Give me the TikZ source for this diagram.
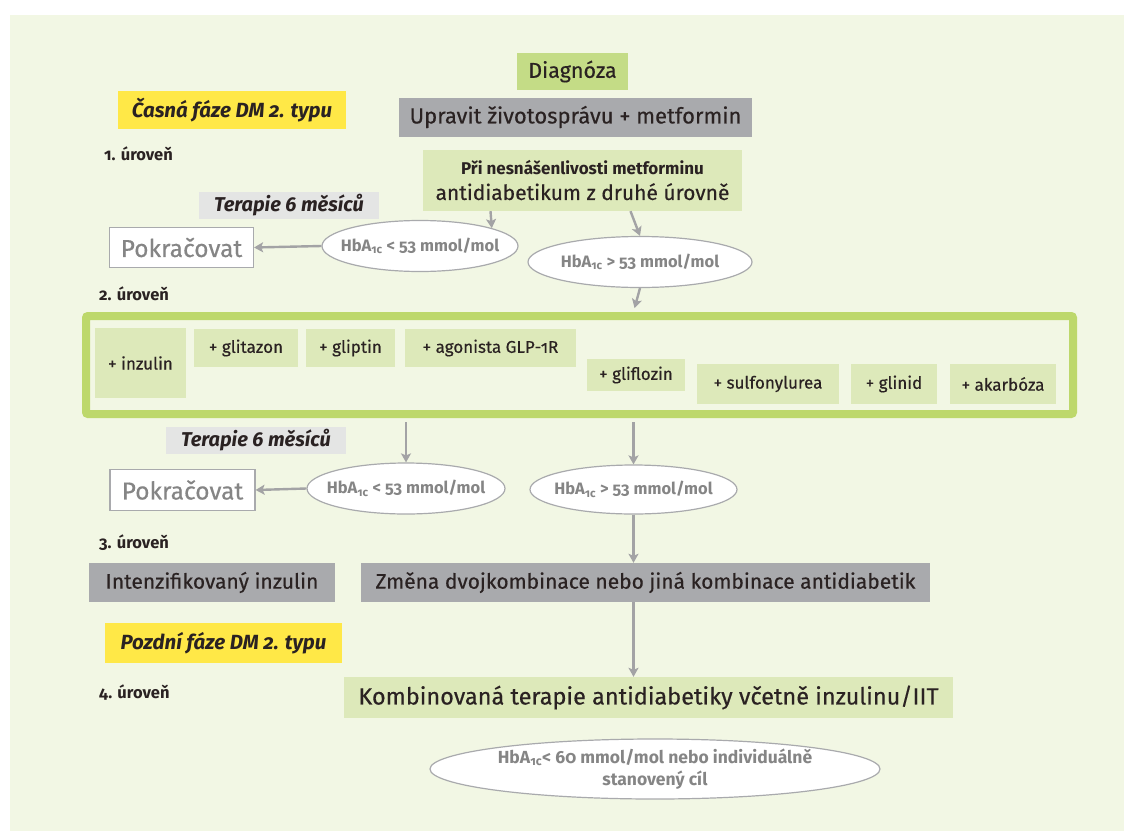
\documentclass[tikz,border=0pt]{standalone}
\usepackage{fontspec}
\setmainfont{Fira Sans}[Numbers=OldStyle, UprightFeatures={FakeBold=0.4}]
\usetikzlibrary{shapes.geometric,arrows.meta}
\definecolor{panel}{HTML}{F2F7E4}
\definecolor{ink}{HTML}{2A2222}
\definecolor{lgreen}{HTML}{DDE9BA}
\definecolor{mgreen}{HTML}{C4DC86}
\definecolor{fgreen}{HTML}{BDD86B}
\definecolor{dgrey}{HTML}{A9AAAD}
\definecolor{lgrey}{HTML}{E4E5E4}
\definecolor{yel}{HTML}{FFE847}
\definecolor{arrowgrey}{HTML}{A3A3A5}
\definecolor{softtext}{HTML}{858585}

\begin{document}
\begin{tikzpicture}[x=1pt,y=-1pt,
base/.style={inner sep=0pt, align=center, text=ink},
greenbox/.style={base, fill=lgreen},
greybox/.style={base, fill=dgrey},
phase/.style={base, fill=yel, font=\fontsize{20.5}{24}\selectfont\bfseries\itshape},
months/.style={base, fill=lgrey, font=\fontsize{20}{24}\selectfont\bfseries\itshape},
goon/.style={base, draw=dgrey, line width=1.2pt, fill=white, text=softtext, font=\fontsize{24.5}{28}\selectfont},
cond/.style={ellipse, base, inner xsep=-40pt, inner ysep=-6pt, draw=dgrey, line width=1.2pt, fill=white, text=softtext, font=\fontsize{16.5}{20}\selectfont\bfseries},
drug/.style={greenbox, font=\fontsize{17}{20}\selectfont},
level/.style={base, anchor=west, font=\fontsize{16.5}{19}\selectfont\bfseries},
flow/.style={-{Stealth[length=9pt,width=10pt,inset=2pt]}, arrowgrey, line width=2.4pt}
]
\useasboundingbox (0,0) rectangle (1124,835);
\fill[panel] (10,15) rectangle (1124,831);

\node[base, fill=mgreen, minimum width=111pt, minimum height=37pt, font=\fontsize{21.5}{24}\selectfont] (diag) at (572.5,71.5) {Diagnóza};
\node[greybox, minimum width=353pt, minimum height=39pt, font=\fontsize{22}{25}\selectfont] (lifestyle) at (575.5,117) {Upravit životosprávu + metformin};
\node[greenbox, minimum width=319pt, minimum height=61pt, font=\fontsize{21}{25}\selectfont] (intol) at (582.5,180.5) {{\fontsize{17}{20}\selectfont\bfseries Při nesnášenlivosti metforminu}\\antidiabetikum z druhé úrovně};
\node[phase, minimum width=228pt, minimum height=38pt] (early) at (232,110) {Časná fáze DM 2. typu};
\node[level] (lvA) at (104,154) {1. úroveň};
\node[months, minimum width=180pt, minimum height=27pt] (ther1) at (289,205.5) {Terapie 6 měsíců};
\node[goon, minimum width=144pt, minimum height=40pt] (cont1) at (181.5,247.5) {Pokračovat};
\node[cond, minimum width=196pt, minimum height=51pt] (low1) at (420,246) {HbA\textsubscript{1c} < 53 mmol/mol};
\node[cond, minimum width=224pt, minimum height=51pt] (high1) at (640,262) {HbA\textsubscript{1c} > 53 mmol/mol};
\node[level] (lvB) at (99,294) {2. úroveň};

\node[base, draw=fgreen, line width=8pt, rounded corners=2pt, fill=panel, minimum width=987pt, minimum height=98pt] (combo) at (579.5,365) {};
\node[drug, minimum width=91pt, minimum height=70pt] (insulin) at (140.5,363) {+ inzulin};
\node[drug, minimum width=104pt, minimum height=38pt] (glitazon) at (246,348) {+ glitazon};
\node[drug, minimum width=89pt, minimum height=38pt] (gliptin) at (350.5,348) {+ gliptin};
\node[drug, minimum width=171pt, minimum height=38pt] (glp) at (490.5,348) {+ agonista GLP-1R};
\node[drug, minimum width=98pt, minimum height=32pt] (gliflozin) at (636,375) {+ gliflozin};
\node[drug, minimum width=142pt, minimum height=40pt] (su) at (768,384) {+ sulfonylurea};
\node[drug, minimum width=86pt, minimum height=40pt] (glinid) at (894,384) {+ glinid};
\node[drug, minimum width=106pt, minimum height=40pt] (acarb) at (1003,384) {+ akarbóza};

\node[months, minimum width=180pt, minimum height=27pt] (ther2) at (256,440.5) {Terapie 6 měsíců};
\node[goon, minimum width=145pt, minimum height=41pt] (cont2) at (182.5,490) {Pokračovat};
\node[cond, minimum width=198pt, minimum height=51pt] (low2) at (406,488.5) {HbA\textsubscript{1c} < 53 mmol/mol};
\node[cond, minimum width=207pt, minimum height=49pt] (high2) at (633.5,489.5) {HbA\textsubscript{1c} > 53 mmol/mol};
\node[level] (lvC) at (99,543) {3. úroveň};

\node[greybox, minimum width=246pt, minimum height=39pt, font=\fontsize{21}{24}\selectfont] (intens) at (212,582.5) {Intenzifikovaný inzulin};
\node[greybox, minimum width=569pt, minimum height=39pt, font=\fontsize{21}{24}\selectfont] (change) at (645.5,582.5) {Změna dvojkombinace nebo jiná kombinace antidiabetik};
\node[phase, minimum width=237pt, minimum height=40pt] (late) at (223.5,643) {Pozdní fáze DM 2. typu};
\node[level] (lvD) at (99,693) {4. úroveň};
\node[greenbox, minimum width=609pt, minimum height=41pt, font=\fontsize{23.5}{27}\selectfont] (insulinall) at (648.5,697.5) {Kombinovaná terapie antidiabetiky včetně inzulinu/IIT};
\node[cond, minimum width=450pt, minimum height=60pt, inner xsep=-80pt, inner ysep=-12pt, font=\fontsize{17.5}{22}\selectfont\bfseries] (target) at (655,769) {HbA\textsubscript{1c}< 60 mmol/mol nebo individuálně\\stanovený cíl};

\draw[flow] ([xshift=-92pt]intol.south) -- (low1.14);
\draw[flow] ([xshift=48pt]intol.south) -- (high1.north);
\draw[flow] (low1.west) -- (cont1.east);
\draw[flow, shorten >=4pt] (high1.south) -- ([xshift=54pt]combo.north);
\draw[flow, shorten <=4pt] (combo.south -| low2.north) -- (low2.north);
\draw[flow, shorten <=4pt] (combo.south -| high2.north) -- (high2.north);
\draw[flow] (low2.west) -- (cont2.east);
\draw[flow] (high2.south) -- (high2.south |- change.north);
\draw[flow] (change.south -| high2.south) -- (high2.south |- insulinall.north);
\end{tikzpicture}
\end{document}
